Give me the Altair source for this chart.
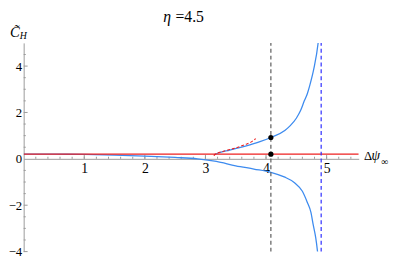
import altair as alt
import pandas as pd

# ---- data ----
lower_x = [0.0, 0.5, 1.0, 1.5, 2.0, 2.5, 2.87, 3.18, 3.5, 3.8, 4.08, 4.3, 4.47, 4.6, 4.68, 4.74, 4.78, 4.82, 4.85, 4.87]
lower_y = [0.2, 0.2, 0.19, 0.16, 0.12, 0.06, 0.0, -0.11, -0.3, -0.44, -0.58, -0.78, -1.03, -1.4, -1.87, -2.3, -2.86, -3.4, -4.0, -4.5]

upper_x = [3.14, 3.2, 3.4, 3.66, 3.9, 4.08, 4.31, 4.4, 4.5, 4.57, 4.63, 4.68, 4.72, 4.79, 4.86, 4.88]
upper_y = [0.17, 0.24, 0.38, 0.55, 0.74, 0.92, 1.22, 1.43, 1.75, 2.08, 2.49, 2.8, 3.15, 3.9, 5.0, 5.5]

red_dash_x = [3.14, 3.16, 3.3, 3.5, 3.66, 3.75, 3.83]
red_dash_y = [0.13, 0.2, 0.33, 0.47, 0.62, 0.72, 0.87]

red_level = 0.2
x_max = 5.53
black_vline = 4.08
blue_vline = 4.91
dots_x = [4.08, 4.08]
dots_y = [0.92, 0.2]

x_tick_labels = [1, 2, 3, 4, 5]
y_tick_labels = [-4, -2, 0, 2, 4]
x_minor = [round(0.2 * i, 2) for i in range(1, 28)]
y_minor = [-3.5, -3, -2.5, -1.5, -1, -0.5, 0.5, 1, 1.5, 2.5, 3, 3.5, 4.5]

FONT = "Liberation Serif"
BLUE = "#3d8bef"
RED = "#ee2020"
AX = "#9a9a9a"

xs = alt.Scale(domain=[0, x_max], nice=False, zero=False)
ys = alt.Scale(domain=[-4, 5], nice=False, zero=False)

XAXIS = alt.Axis(title=None, values=x_tick_labels, ticks=False, grid=False,
                 domainColor=AX, domainWidth=1, offset=-94.67, labelFont=FONT,
                 labelFontSize=14, labelColor="black", labelPadding=3)
YAXIS = alt.Axis(title=None, values=y_tick_labels, ticks=False, grid=False,
                 domainColor=AX, domainWidth=1, labelFont=FONT, labelFontSize=13,
                 labelColor="black", labelPadding=2)

def X(f="x:Q"):
    return alt.X(f, scale=xs, axis=XAXIS)

def Y(f="y:Q"):
    return alt.Y(f, scale=ys, axis=YAXIS)

def df(x, y):
    d = pd.DataFrame({"x": x, "y": y})
    d["i"] = range(len(d))
    return d

# custom inward ticks
xt = pd.DataFrame({"x": x_tick_labels + x_minor,
                   "y": [0] * (len(x_tick_labels) + len(x_minor)),
                   "y2": [0.17] * len(x_tick_labels) + [0.09] * len(x_minor)})
xticks = alt.Chart(xt).mark_rule(color=AX, strokeWidth=1).encode(x=X(), y=Y(), y2="y2:Q")
ytv = [v for v in y_tick_labels if v != 0]
yt = pd.DataFrame({"y": ytv + y_minor,
                   "x": [0] * (len(ytv) + len(y_minor)),
                   "x2": [0.065] * len(ytv) + [0.035] * len(y_minor)})
yticks = alt.Chart(yt).mark_rule(color=AX, strokeWidth=1).encode(y=Y(), x=X(), x2="x2:Q")

def curve(d, color, width=1.3, dash=None):
    kw = dict(color=color, strokeWidth=width, clip=True, interpolate="monotone")
    if dash:
        kw["strokeDash"] = dash
    return alt.Chart(d).mark_line(**kw).encode(x=X(), y=Y(), order="i:Q")

lower = curve(df(lower_x, lower_y), BLUE)
upper = curve(df(upper_x, upper_y), BLUE)
red_h = curve(df([0, x_max], [red_level, red_level]), RED, 1.3)
red_d = curve(df(red_dash_x, red_dash_y), RED, 1.1, [3, 2])

def vline(xv, color):
    d = pd.DataFrame({"x": [xv], "y": [-4], "y2": [5]})
    return alt.Chart(d).mark_rule(color=color, strokeWidth=1.2, strokeDash=[4, 3]).encode(
        x=X(), y=Y(), y2="y2:Q")

vb = vline(black_vline, "#5a5a5a")
vbl = vline(blue_vline, "#2b2bff")

dots = alt.Chart(df(dots_x, dots_y)).mark_circle(color="black", size=28, opacity=1).encode(
    x=X(), y=Y())

def label(t, x, y, size, style="normal", align="left", baseline="alphabetic"):
    return alt.Chart(pd.DataFrame({"t": [t]})).mark_text(
        font=FONT, fontSize=size, fontStyle=style, align=align, baseline=baseline,
        color="black").encode(x=alt.value(x), y=alt.value(y), text="t:N")

texts = [
    label("η", 142.5, -21, 16, "italic"),
    label("=4.5", 155, -21, 16),
    label("C\u0303", -14, -6, 15, "italic"),
    label("H", -4, -4, 10, "italic"),
    label("Δ", 347.5, 120, 13),
    label("ψ", 355, 120, 14, "italic"),
    label("∞", 365, 125, 10),
]

chart = alt.layer(xticks, yticks, lower, upper, red_h, red_d, vb, vbl, dots, *texts).properties(
    width=342, height=213,
    autosize=alt.AutoSizeParams(type="none"),
    padding={"left": 16, "top": 33, "right": 36, "bottom": 8},
    background="white",
).configure_view(stroke=None)

chart.save("out.html", embed_options={"renderer": "svg", "actions": False})
